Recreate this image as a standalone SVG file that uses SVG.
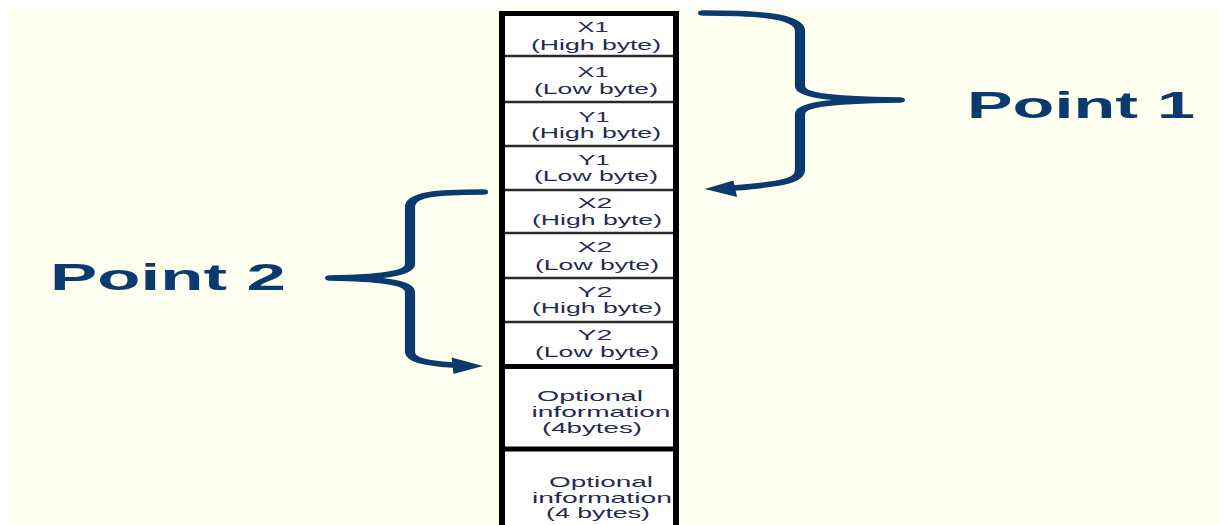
<svg xmlns="http://www.w3.org/2000/svg" width="1219" height="525" viewBox="0 0 1219 525">
  <style>
    .cell { font-family: "Liberation Sans", Arial, sans-serif; font-size: 14.5px; fill: #262a50; text-anchor: middle; }
    .label { font-family: "Liberation Sans", Arial, sans-serif; font-size: 37px; font-weight: bold; fill: #0b3a6e; }
    .div { stroke: #2a2a2a; stroke-width: 2.4; }
    .thick { stroke: #000; stroke-width: 5; }
    .brace { fill: none; stroke: #0b3a6e; stroke-width: 5.5; stroke-linecap: round; stroke-linejoin: round; }
    .head { fill: #0b3a6e; }
  </style>

  <!-- page background -->
  <rect x="0" y="0" width="1219" height="525" fill="#ffffff"/>
  <rect x="8" y="8" width="1211" height="517" fill="#fffff0"/>

  <!-- byte column -->
  <g id="column">
    <rect x="505" y="16" width="168" height="509" fill="#ffffff"/>
    <rect x="499" y="11" width="6" height="514" fill="#000"/>
    <rect x="673" y="11" width="6" height="514" fill="#000"/>
    <rect x="499" y="11" width="180" height="5" fill="#000"/>
    <line class="div" x1="505" y1="56" x2="673" y2="56"/>
    <line class="div" x1="505" y1="102" x2="673" y2="102"/>
    <line class="div" x1="505" y1="146" x2="673" y2="146"/>
    <line class="div" x1="505" y1="190" x2="673" y2="190"/>
    <line class="div" x1="505" y1="233" x2="673" y2="233"/>
    <line class="div" x1="505" y1="278" x2="673" y2="278"/>
    <line class="div" x1="505" y1="322" x2="673" y2="322"/>
    <line class="thick" x1="505" y1="366.5" x2="673" y2="366.5"/>
    <line class="thick" x1="505" y1="449" x2="673" y2="449"/>
  </g>

  <g id="x1-high">
    <text class="cell" x="593" y="32" textLength="31" lengthAdjust="spacingAndGlyphs">X1</text>
    <text class="cell" x="596" y="50" textLength="130" lengthAdjust="spacingAndGlyphs">(High byte)</text>
  </g>
  <g id="x1-low">
    <text class="cell" x="593" y="77" textLength="31" lengthAdjust="spacingAndGlyphs">X1</text>
    <text class="cell" x="596" y="94" textLength="124" lengthAdjust="spacingAndGlyphs">(Low byte)</text>
  </g>
  <g id="y1-high">
    <text class="cell" x="594" y="122" textLength="31" lengthAdjust="spacingAndGlyphs">Y1</text>
    <text class="cell" x="596" y="138" textLength="130" lengthAdjust="spacingAndGlyphs">(High byte)</text>
  </g>
  <g id="y1-low">
    <text class="cell" x="594" y="165" textLength="31" lengthAdjust="spacingAndGlyphs">Y1</text>
    <text class="cell" x="596" y="181" textLength="124" lengthAdjust="spacingAndGlyphs">(Low byte)</text>
  </g>
  <g id="x2-high">
    <text class="cell" x="595" y="208" textLength="35" lengthAdjust="spacingAndGlyphs">X2</text>
    <text class="cell" x="597" y="225" textLength="130" lengthAdjust="spacingAndGlyphs">(High byte)</text>
  </g>
  <g id="x2-low">
    <text class="cell" x="595" y="252" textLength="35" lengthAdjust="spacingAndGlyphs">X2</text>
    <text class="cell" x="597" y="270" textLength="124" lengthAdjust="spacingAndGlyphs">(Low byte)</text>
  </g>
  <g id="y2-high">
    <text class="cell" x="595" y="297" textLength="35" lengthAdjust="spacingAndGlyphs">Y2</text>
    <text class="cell" x="597" y="313" textLength="130" lengthAdjust="spacingAndGlyphs">(High byte)</text>
  </g>
  <g id="y2-low">
    <text class="cell" x="595" y="340" textLength="35" lengthAdjust="spacingAndGlyphs">Y2</text>
    <text class="cell" x="597" y="357" textLength="124" lengthAdjust="spacingAndGlyphs">(Low byte)</text>
  </g>
  <g id="optional-1">
    <text class="cell" x="590" y="401" textLength="106" lengthAdjust="spacingAndGlyphs">Optional</text>
    <text class="cell" x="601" y="417" textLength="139" lengthAdjust="spacingAndGlyphs">information</text>
    <text class="cell" x="592" y="433" textLength="100" lengthAdjust="spacingAndGlyphs">(4bytes)</text>
  </g>
  <g id="optional-2">
    <text class="cell" x="601" y="487" textLength="104" lengthAdjust="spacingAndGlyphs">Optional</text>
    <text class="cell" x="602" y="503" textLength="140" lengthAdjust="spacingAndGlyphs">information</text>
    <text class="cell" x="598" y="518" textLength="104" lengthAdjust="spacingAndGlyphs">(4 bytes)</text>
  </g>

  <g id="point1">
    <text class="label" x="967" y="118" textLength="228" lengthAdjust="spacingAndGlyphs">Point 1</text>
  </g>
  <g id="point2">
    <text class="label" x="50" y="290" textLength="236" lengthAdjust="spacingAndGlyphs">Point 2</text>
  </g>

  <!-- braces, drawn narrow and stretched sideways -->
  <g id="connectors">
    <g transform="translate(800,0) scale(1.85,1)">
      <path class="brace" d="M -52.4,13 C -25,13 0,15 0,31 L 0,86 C 0,94 10,99 54,100 C 10,101 0,106 0,114 L 0,170 C 0,180 -8,184 -36,188"/>
      <polygon class="head" points="-51.5,189 -36,180.5 -34,197"/>
    </g>
    <g transform="translate(410,0) scale(1.85,1)">
      <path class="brace" d="M 39.5,192 C 15,192 0,194 0,207 L 0,264 C 0,272 -10,277 -43.2,278 C -10,279 0,284 0,292 L 0,352 C 0,360 8,363 23,365"/>
      <polygon class="head" points="39.5,366 22.5,357.5 23.5,374"/>
    </g>
  </g>
</svg>
